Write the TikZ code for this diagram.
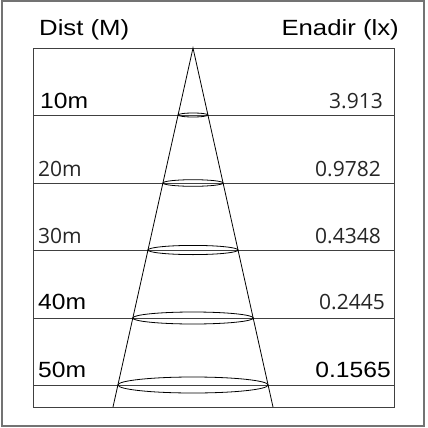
\documentclass[tikz,border=0pt]{standalone}
\usepackage{graphicx}
\usepackage{fontspec}
\setmainfont{Liberation Sans}
\newfontfamily\lightfont{Open Sans}
\newcommand{\wideH}[1]{\scalebox{1.17}[1]{#1}}
\newcommand{\wideB}[1]{\scalebox{1.12}[1]{#1}}
\tikzset{
  hdr/.style={inner sep=0pt, font=\fontsize{22}{24}\selectfont},
  bold/.style={inner sep=0pt, font=\fontsize{22}{24}\selectfont},
  light/.style={inner sep=0pt, font=\lightfont\fontsize{21}{24}\selectfont, text=black!85},
  grid/.style={draw=black!75, line width=0.9pt},
  cone/.style={draw=black, line width=0.8pt},
}
\begin{document}
\begin{tikzpicture}[x=1pt,y=-1pt]
\useasboundingbox (0,0) rectangle (428,428);
\fill[white] (0,0) rectangle (428,428);
\draw[draw=black!55, line width=2pt] (1.5,1.5) rectangle (424,426);
% table
\draw[grid] (33,48) rectangle (394,407);
\foreach \yy in {115,183,250,318,385} \draw[grid] (33,\yy) -- (394,\yy);
% cone
\coordinate (apex) at (193,48);
\coordinate (bl) at (113,407);
\coordinate (br) at (273,407);
\draw[cone] (bl) -- (apex) -- (br);
\draw[cone] (193,115) ellipse [x radius=14.9, y radius=2];
\draw[cone] (193,183) ellipse [x radius=30.1, y radius=3.3];
\draw[cone] (193,250) ellipse [x radius=45, y radius=4.6];
\draw[cone] (193,318) ellipse [x radius=60.2, y radius=6];
\draw[cone] (193,385) ellipse [x radius=75.1, y radius=8];
% headers
\node[hdr, anchor=base west] (hd) at (39,36) {\wideH{Dist (M)}};
\node[hdr, anchor=base east] (he) at (399,36) {\wideH{Enadir (lx)}};
% rows
\node[bold, anchor=base west] (d1) at (40,108) {\wideB{10m}};
\node[light, anchor=base east] (e1) at (383,108) {3.913};
\node[light, anchor=base west] (d2) at (38,176) {20m};
\node[light, anchor=base east] (e2) at (381,176) {0.9782};
\node[light, anchor=base west] (d3) at (38,243) {30m};
\node[light, anchor=base east] (e3) at (381,243) {0.4348};
\node[bold, anchor=base west] (d4) at (38,309) {\wideB{40m}};
\node[light, anchor=base east] (e4) at (385,309) {0.2445};
\node[bold, anchor=base west] (d5) at (38,377) {\wideB{50m}};
\node[bold, anchor=base east] (e5) at (391,377) {\wideB{0.1565}};
\end{tikzpicture}
\end{document}
